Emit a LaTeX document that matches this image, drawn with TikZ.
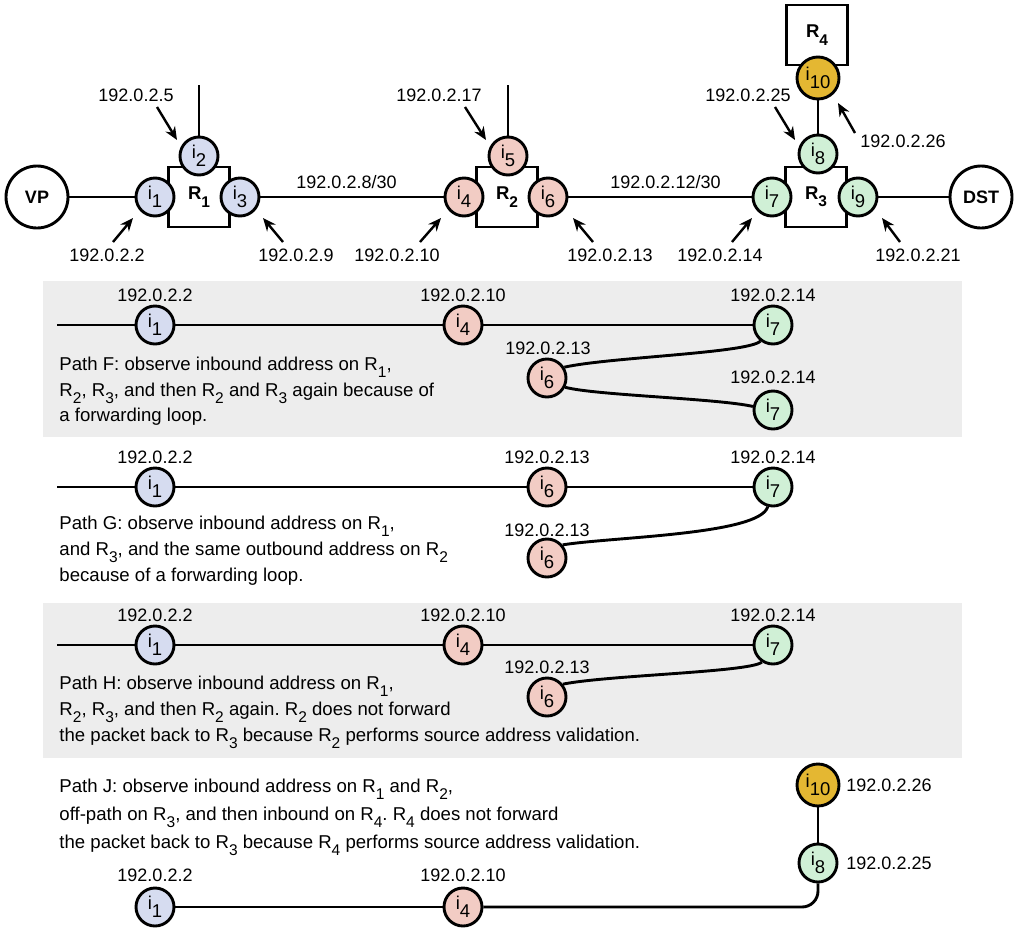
\documentclass[tikz,border=0pt]{standalone}
\usepackage{fontspec}
\setmainfont{Liberation Sans}
\usetikzlibrary{arrows.meta}
\definecolor{cblue}{RGB}{214,220,240}
\definecolor{cpink}{RGB}{242,204,196}
\definecolor{cgreen}{RGB}{208,240,214}
\definecolor{cgold}{RGB}{228,183,50}
\definecolor{bggray}{RGB}{237,237,237}
\newcommand\isub[1]{i\raisebox{-0.42em}{#1}}
\newcommand\tsub[1]{\raisebox{-0.4em}{\fontsize{15.5}{15.5}\selectfont #1}}
\frenchspacing
\begin{document}
\begin{tikzpicture}[x=1pt,y=-1pt, line width=2.9pt,
  iface/.style={circle,draw,minimum size=38pt,inner sep=0pt,font=\fontsize{18.5}{18.5}\selectfont},
  ifb/.style={iface,fill=cblue}, ifp/.style={iface,fill=cpink}, ifg/.style={iface,fill=cgreen},
  ifo/.style={iface,fill=cgold,minimum size=42pt},
  host/.style={circle,draw,minimum size=62pt,inner sep=0pt,font=\fontsize{18}{18}\selectfont\bfseries},
  router/.style={draw,minimum width=61pt,minimum height=60pt,inner sep=0pt,font=\fontsize{18.5}{18.5}\selectfont\bfseries},
  addr/.style={font=\fontsize{18}{18}\selectfont,inner sep=0pt},
  desc/.style={font=\fontsize{18.6}{18.6}\selectfont,inner sep=0pt,anchor=base west},
  arr/.style={line width=2.4pt,-{Stealth[length=13pt,width=11pt]}}]
\useasboundingbox (0,0) rectangle (1014,927);
% backgrounds
\fill[bggray] (43,281) rectangle (962,437);
\fill[bggray] (43,603) rectangle (962,758);

% ---------- top topology ----------
\node[host] (vp) at (37,197) {VP};
\node[host] (dst) at (981,197) {DST};
\node[router] (r1) at (199,197) {R\tsub{1}};
\node[router] (r2) at (507,197) {R\tsub{2}};
\node[router] (r3) at (816,197) {R\tsub{3}};
\node[router] (r4) at (817,35) {R\tsub{4}};
\node[ifb] (i1) at (155,197) {\isub{1}};
\node[ifb] (i2) at (199,156) {\isub{2}};
\node[ifb] (i3) at (240,197) {\isub{3}};
\node[ifp] (i4) at (464,197) {\isub{4}};
\node[ifp] (i5) at (508,156) {\isub{5}};
\node[ifp] (i6) at (548,197) {\isub{6}};
\node[ifg] (i7) at (772,197) {\isub{7}};
\node[ifg] (i8) at (818,154) {\isub{8}};
\node[ifg] (i9) at (858,197) {\isub{9}};
\node[ifo] (i10) at (818,78) {\isub{10}};
\coordinate (u1) at (199,85);
\coordinate (u2) at (508,85);
\draw (vp) -- (i1);
\draw (i3) -- node[addr,above=7pt,pos=0.47] (n8) {192.0.2.8/30} (i4);
\draw (i6) -- node[addr,above=7pt,pos=0.53] (n12) {192.0.2.12/30} (i7);
\draw (i9) -- (dst);
\draw (i2) -- (u1);
\draw (i5) -- (u2);
\draw (i8) -- (i10);

% address labels with arrows
\node[addr] (l2) at (136,95) {192.0.2.5};
\coordinate (a2s) at (157,107); \coordinate (a2e) at (177,140);
\node[addr] (l1) at (107,255) {192.0.2.2};
\coordinate (a1s) at (113,242); \coordinate (a1e) at (133,218);
\node[addr] (l3) at (296,255) {192.0.2.9};
\coordinate (a3s) at (283,242); \coordinate (a3e) at (263,218);
\node[addr] (l5) at (439,95) {192.0.2.17};
\coordinate (a5s) at (465,107); \coordinate (a5e) at (486,140);
\node[addr] (l4) at (397,255) {192.0.2.10};
\coordinate (a4s) at (420,242); \coordinate (a4e) at (441,218);
\node[addr] (l6) at (610,255) {192.0.2.13};
\coordinate (a6s) at (593,242); \coordinate (a6e) at (573,218);
\node[addr] (l8) at (748,95) {192.0.2.25};
\coordinate (a8s) at (775,107); \coordinate (a8e) at (795,140);
\node[addr] (l10) at (903,141) {192.0.2.26};
\coordinate (a10s) at (855,133); \coordinate (a10e) at (838,103);
\node[addr] (l7) at (720,255) {192.0.2.14};
\coordinate (a7s) at (732,242); \coordinate (a7e) at (752,218);
\node[addr] (l9) at (918,255) {192.0.2.21};
\coordinate (a9s) at (900,242); \coordinate (a9e) at (882,218);
\foreach \k in {1,2,3,4,5,6,7,8,9,10} { \draw[arr] (a\k s) -- (a\k e); }

% ---------- Path F ----------
\coordinate (fs) at (57,325);
\node[ifb] (f1) at (155,325) {\isub{1}};
\node[ifp] (f4) at (463,325) {\isub{4}};
\node[ifg] (f7a) at (773,325) {\isub{7}};
\node[ifp] (f6) at (547,378) {\isub{6}};
\node[ifg] (f7b) at (773,410) {\isub{7}};
\node[addr] at (155,295) {192.0.2.2};
\node[addr] at (463,295) {192.0.2.10};
\node[addr] at (773,295) {192.0.2.14};
\node[addr] at (548,348) {192.0.2.13};
\node[addr] at (773,377) {192.0.2.14};
\draw (fs) -- (f1) -- (f4) -- (f7a);
\draw (f7a.-128) .. controls +(-12,12) and +(45,-10) .. (f6.32);
\draw (f6.-27) .. controls +(30,8) and +(-35,-8) .. (f7b.170);
\node[desc] at (58,370) {Path F: observe inbound address on R\tsub{1},};
\node[desc] at (58,396) {R\tsub{2}, R\tsub{3}, and then R\tsub{2} and R\tsub{3} again because of};
\node[desc] at (58,421) {a forwarding loop.};

% ---------- Path G ----------
\coordinate (gs) at (57,487);
\node[ifb] (g1) at (155,487) {\isub{1}};
\node[ifp] (g6a) at (547,487) {\isub{6}};
\node[ifg] (g7) at (773,487) {\isub{7}};
\node[ifp] (g6b) at (547,558) {\isub{6}};
\node[addr] at (155,457) {192.0.2.2};
\node[addr] at (547,457) {192.0.2.13};
\node[addr] at (773,457) {192.0.2.14};
\node[addr] at (547,530) {192.0.2.13};
\draw (gs) -- (g1) -- (g6a) -- (g7);
\draw (g7.-105) .. controls +(-8,28) and +(50,-8) .. (g6b.40);
\node[desc] at (58,529) {Path G: observe inbound address on R\tsub{1},};
\node[desc] at (58,555) {and R\tsub{3}, and the same outbound address on R\tsub{2}};
\node[desc] at (58,581) {because of a forwarding loop.};

% ---------- Path H ----------
\coordinate (hs) at (57,645);
\node[ifb] (h1) at (155,645) {\isub{1}};
\node[ifp] (h4) at (463,645) {\isub{4}};
\node[ifg] (h7) at (773,645) {\isub{7}};
\node[ifp] (h6) at (547,697) {\isub{6}};
\node[addr] at (155,615) {192.0.2.2};
\node[addr] at (463,615) {192.0.2.10};
\node[addr] at (773,615) {192.0.2.14};
\node[addr] at (547,667) {192.0.2.13};
\draw (hs) -- (h1) -- (h4) -- (h7);
\draw (h7.-123) .. controls +(-12,10) and +(45,-9) .. (h6.39);
\node[desc] at (58,689) {Path H: observe inbound address on R\tsub{1},};
\node[desc] at (58,715) {R\tsub{2}, R\tsub{3}, and then R\tsub{2} again. R\tsub{2} does not forward};
\node[desc] at (58,741) {the packet back to R\tsub{3} because R\tsub{2} performs source address validation.};

% ---------- Path J ----------
\node[desc] at (58,792) {Path J: observe inbound address on R\tsub{1} and R\tsub{2},};
\node[desc] at (58,820) {off-path on R\tsub{3}, and then inbound on R\tsub{4}. R\tsub{4} does not forward};
\node[desc] at (58,848) {the packet back to R\tsub{3} because R\tsub{4} performs source address validation.};
\node[ifb] (j1) at (155,907) {\isub{1}};
\node[ifp] (j4) at (463,907) {\isub{4}};
\node[ifg] (j8) at (818,863) {\isub{8}};
\node[ifo] (j10) at (818,785) {\isub{10}};
\node[addr] at (155,875) {192.0.2.2};
\node[addr] at (463,875) {192.0.2.10};
\node[addr,anchor=west] at (845,785) {192.0.2.26};
\node[addr,anchor=west] at (845,863) {192.0.2.25};
\draw (j1) -- (j4);
\draw[rounded corners=16pt] (j4) -- (j4 -| j8) -- (j8);
\draw (j8) -- (j10);
\end{tikzpicture}
\end{document}
